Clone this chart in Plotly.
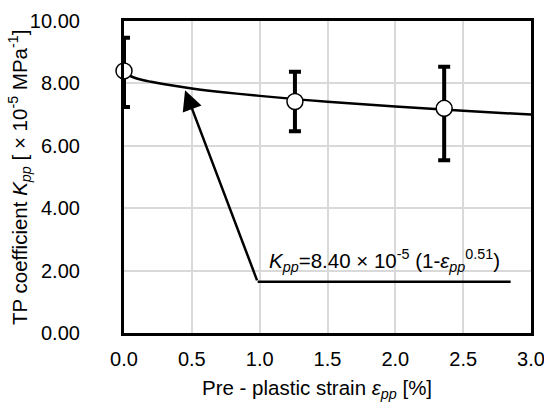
import plotly.graph_objects as go

# measured points (pre-plastic strain %, TP coefficient x1e-5 MPa^-1)
strain_pts = [0.0, 1.26, 2.36]
kpp_pts = [8.40, 7.42, 7.20]
kpp_err_plus = [1.06, 0.95, 1.33]
kpp_err_minus = [1.16, 0.95, 1.66]

# fitted curve
curve_strain = [0.0, 0.01, 0.02, 0.05, 0.1, 0.2, 0.3, 0.5, 0.75, 1.0, 1.5, 2.0, 2.5, 3.0]
curve_kpp = [8.40, 8.32, 8.29, 8.23, 8.15, 8.05, 7.97, 7.84, 7.71, 7.60, 7.41, 7.26, 7.12, 7.00]

# annotation leader: arrow tip, elbow, end of the horizontal line
leader_x = [0.45, 0.985, 2.85]
leader_y = [7.78, 1.64, 1.64]

x_ticks = [0.0, 0.5, 1.0, 1.5, 2.0, 2.5, 3.0]
y_ticks = [0, 2, 4, 6, 8, 10]

FONT = "Liberation Sans, Arial, sans-serif"
FS = 20

fig = go.Figure()

fig.add_trace(go.Scatter(
    x=curve_strain, y=curve_kpp, mode="lines",
    line=dict(color="black", width=2.5, shape="spline"),
    hoverinfo="skip", showlegend=False))

# error bars
fig.add_trace(go.Scatter(
    x=strain_pts, y=kpp_pts, mode="markers",
    marker=dict(size=1, color="rgba(0,0,0,0)"),
    error_y=dict(type="data", symmetric=False, array=kpp_err_plus,
                 arrayminus=kpp_err_minus, color="black", thickness=4, width=6),
    cliponaxis=True, showlegend=False))

fig.add_trace(go.Scatter(
    x=strain_pts, y=kpp_pts, mode="markers",
    marker=dict(size=16, color="white", line=dict(color="black", width=1.5)),
    cliponaxis=False, showlegend=False))

# horizontal part of the leader
fig.add_trace(go.Scatter(
    x=leader_x[1:], y=leader_y[1:], mode="lines",
    line=dict(color="black", width=2.5), hoverinfo="skip", showlegend=False))

fig.add_annotation(
    x=leader_x[0], y=leader_y[0], ax=leader_x[1], ay=leader_y[1],
    xref="x", yref="y", axref="x", ayref="y",
    showarrow=True, arrowhead=2, arrowsize=1.6, arrowwidth=2.5, arrowcolor="black",
    text="")

fig.add_annotation(
    x=1.92, y=2.33, xref="x", yref="y", showarrow=False,
    text="<i>K</i><sub><i>pp</i></sub>=8.40 × 10<sup>-5</sup> (1-<i>ε</i><sub><i>pp</i></sub><sup>0.51</sup>)",
    font=dict(family=FONT, size=20.5, color="black"))

# axis titles
fig.add_annotation(
    x=0.475, y=-0.18, xref="paper", yref="paper", showarrow=False,
    xanchor="center", yanchor="middle",
    text="Pre - plastic strain <i>ε</i><sub><i>pp</i></sub> [%]",
    font=dict(family=FONT, size=20.5, color="black"))
fig.add_annotation(
    x=-0.258, y=0.5, xref="paper", yref="paper", showarrow=False,
    xanchor="center", yanchor="middle", textangle=-90,
    text="TP coefficient <i>K</i><sub><i>pp</i></sub> [ × 10<sup>-5</sup> MPa<sup>-1</sup>]",
    font=dict(family=FONT, size=20.5, color="black"))

fig.update_xaxes(
    range=[0, 3], tickvals=x_ticks, ticktext=[f"{v:.1f}" for v in x_ticks],
    showgrid=True, gridcolor="#d9d9d9", gridwidth=1.5,
    showline=True, linecolor="black", linewidth=3, mirror=True,
    ticks="outside", ticklen=6, tickcolor="rgba(0,0,0,0)", zeroline=False,
    automargin=False, ticklabeloverflow="allow",
    tickfont=dict(family=FONT, size=FS, color="black"))

fig.update_yaxes(
    range=[0, 10], tickvals=y_ticks, ticktext=[f"{v:.2f}\u00a0\u00a0" for v in y_ticks],
    showgrid=True, gridcolor="#d9d9d9", gridwidth=1.5,
    showline=True, linecolor="black", linewidth=3, mirror=True,
    ticks="", ticklabelstandoff=26, zeroline=False,
    automargin=False, ticklabeloverflow="allow",
    tickfont=dict(family=FONT, size=FS, color="black"))

fig.update_layout(
    width=544, height=404,
    margin=dict(l=124, r=13, t=21, b=71),
    paper_bgcolor="white", plot_bgcolor="white",
    font=dict(family=FONT, size=FS, color="black"),
    showlegend=False)

fig.write_html("out.html")
